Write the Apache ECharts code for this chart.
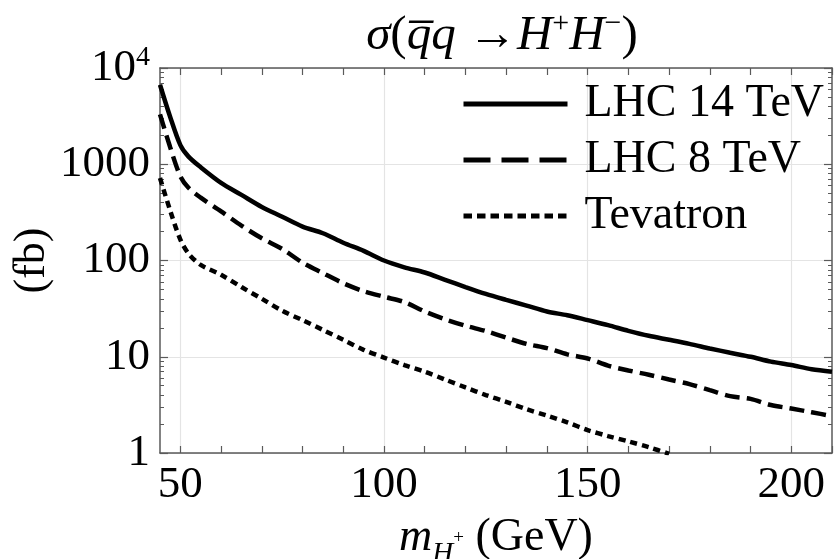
<!DOCTYPE html>
<html>
<head>
<meta charset="utf-8">
<script src="https://cdn.jsdelivr.net/npm/echarts@6/dist/echarts.min.js"></script>
<style>
  html, body { margin: 0; padding: 0; background: #ffffff; }
  #chart { width: 834px; height: 559px; }
</style>
</head>
<body>
<div id="chart"></div>
<script>
// Charged Higgs pair production cross section (fb) vs. m_H+ (GeV)
const masses = [45, 47.5, 50, 52, 55, 60, 65, 70, 75, 80, 85, 90, 95, 100, 105, 110, 115, 120,
  125, 130, 135, 140, 145, 150, 155, 160, 165, 170, 175, 180, 185, 190, 195, 200, 205, 210];

const lhc14 = [6700, 3100, 1580, 1200, 930, 640, 480, 360, 285, 225, 192, 153, 126, 100, 85, 75, 63, 53,
  45, 39, 34, 29.5, 27, 24, 21.3, 18.6, 16.5, 15, 13.6, 12.2, 11, 10, 8.9, 8.2, 7.4, 7.0];

const lhc8 = [3300, 1500, 750, 570, 450, 324, 230, 170, 132, 95, 74, 58, 48, 42, 37, 29.5, 24.5, 21,
  18.5, 15.8, 13.6, 12.3, 10.6, 9.6, 8.1, 7.2, 6.5, 5.8, 5.2, 4.5, 3.9, 3.65, 3.15, 2.9, 2.65, 2.42];

const tevatron = [720, 330, 165, 118, 90, 71, 53, 40, 30, 24, 19, 15, 11.8, 9.8, 8.2, 7.0, 5.8, 4.8,
  4.0, 3.4, 2.85, 2.45, 2.08, 1.73, 1.5, 1.32, 1.15, 0.98, null, null, null, null, null, null, null, null];

const seriesNames = ['LHC 14 TeV', 'LHC 8 TeV', 'Tevatron'];

const xLabelValues = [50, 100, 150, 200];
const xTickValues = [50, 60, 70, 80, 90, 100, 110, 120, 130, 140, 150, 160, 170, 180, 190, 200, 210];
const yMajorValues = [1, 10, 100, 1000, 10000];
const yMinorValues = [2, 3, 4, 5, 6, 7, 8, 9, 20, 30, 40, 50, 60, 70, 80, 90,
  200, 300, 400, 500, 600, 700, 800, 900, 2000, 3000, 4000, 5000, 6000, 7000, 8000, 9000];

const SERIF = '"Liberation Serif", "DejaVu Serif", serif';
const AXIS_COLOR = '#5a5a5a';
const GRID_COLOR = '#e4e4e4';

// line dash patterns: curve / legend sample
const DASH = [15, 7];
const DOT = [7, 5];
const LEGEND_DASH = [27, 11];
const LEGEND_DOT = [8.5, 5];

function pairs(ys) {
  return masses.map((m, i) => [m, ys[i]]);
}

const chart = echarts.init(document.getElementById('chart'), null, { renderer: 'canvas' });

function baseX(extra) {
  return Object.assign({
    type: 'value', min: 45, max: 210, gridIndex: 0,
    axisLine: { show: false }, axisTick: { show: false },
    axisLabel: { show: false }, splitLine: { show: false }
  }, extra);
}
function baseY(extra) {
  return Object.assign({
    type: 'log', logBase: 10, min: 1, max: 10000, gridIndex: 0,
    axisLine: { show: false }, axisTick: { show: false },
    axisLabel: { show: false }, splitLine: { show: false }
  }, extra);
}

const option = {
  animation: false,
  backgroundColor: '#ffffff',
  grid: {
    left: 160, right: 2, top: 68, bottom: 106,
    containLabel: false,
    outerBoundsMode: 'none'
  },
  graphic: [{
    type: 'text',
    x: 502, y: 36,
    style: {
      text: '{i|σ}{r|(}{i|q\u0305q }{r|→}{i|H}{sup|+}{i|H}{sup|−}{r|)}',
      align: 'center', verticalAlign: 'middle',
      rich: {
        i: { fontFamily: SERIF, fontStyle: 'italic', fontSize: 49, lineHeight: 54, fill: '#000' },
        r: { fontFamily: SERIF, fontSize: 49, lineHeight: 54, fill: '#000' },
        sup: { fontFamily: SERIF, fontSize: 30, lineHeight: 54, verticalAlign: 'top', fill: '#000' }
      }
    }
  }],
  legend: {
    orient: 'vertical',
    left: 456, top: 76,
    itemWidth: 104, itemHeight: 30,
    itemGap: 10,
    data: [
      { name: seriesNames[0], lineStyle: { width: 5, type: 'solid' } },
      { name: seriesNames[1], lineStyle: { width: 5, type: LEGEND_DASH } },
      { name: seriesNames[2], lineStyle: { width: 5, type: LEGEND_DOT } }
    ],
    itemStyle: { opacity: 0 },
    lineStyle: { width: 5 },
    textStyle: {
      fontFamily: SERIF, fontSize: 46, color: '#000', lineHeight: 36,
      padding: [0, 0, 0, 12]
    }
  },
  xAxis: [
    // bottom frame with labels and ticks
    baseX({
      position: 'bottom',
      axisLine: { show: true, onZero: false, lineStyle: { color: AXIS_COLOR, width: 1.5 } },
      axisTick: { show: true, inside: true, length: 7, customValues: xTickValues, lineStyle: { color: AXIS_COLOR, width: 1.2 } },
      axisLabel: {
        show: true, customValues: xLabelValues, margin: 10,
        fontFamily: SERIF, fontSize: 45, color: '#000'
      },
      name: '{i|m}{sub|H}{subsup|+}{r| (GeV)}',
      nameLocation: 'middle',
      nameGap: 60,
      nameTextStyle: {
        rich: {
          i: { fontFamily: SERIF, fontStyle: 'italic', fontSize: 46, lineHeight: 50, color: '#000' },
          sub: { fontFamily: SERIF, fontStyle: 'italic', fontSize: 29, lineHeight: 50, verticalAlign: 'bottom', padding: [0, 0, -6, 0], color: '#000' },
          subsup: { fontFamily: SERIF, fontSize: 19, lineHeight: 50, verticalAlign: 'middle', color: '#000' },
          r: { fontFamily: SERIF, fontSize: 46, lineHeight: 50, color: '#000' }
        }
      }
    }),
    // top frame with mirrored ticks
    baseX({
      position: 'top',
      axisLine: { show: true, onZero: false, lineStyle: { color: AXIS_COLOR, width: 1.5 } },
      axisTick: { show: true, inside: true, length: 7, customValues: xTickValues, lineStyle: { color: AXIS_COLOR, width: 1.2 } }
    }),
    // vertical grid lines at the labelled masses
    baseX({
      position: 'bottom',
      axisTick: { show: false, customValues: xLabelValues },
      splitLine: { show: true, lineStyle: { color: GRID_COLOR, width: 1.2 } }
    })
  ],
  yAxis: [
    // left frame: decades, labels, grid lines
    baseY({
      position: 'left',
      axisLine: { show: true, onZero: false, lineStyle: { color: AXIS_COLOR, width: 1.5 } },
      axisTick: { show: true, inside: true, length: 8, customValues: yMajorValues, lineStyle: { color: AXIS_COLOR, width: 1.2 } },
      axisLabel: {
        show: true, customValues: yMajorValues, margin: 10,
        formatter: function (v) {
          return v >= 10000 ? '{b|10}{sup|4}' : '{b|' + v + '}';
        },
        rich: {
          b: { fontFamily: SERIF, fontSize: 45, lineHeight: 48, color: '#000' },
          sup: { fontFamily: SERIF, fontSize: 28, lineHeight: 48, verticalAlign: 'top', color: '#000' }
        }
      },
      splitLine: { show: true, lineStyle: { color: GRID_COLOR, width: 1.2 } },
      name: '(fb)',
      nameLocation: 'middle',
      nameGap: 106,
      nameMoveOverlap: false,
      nameRotate: 90,
      nameTextStyle: { fontFamily: SERIF, fontSize: 44, color: '#000' }
    }),
    // left minor ticks
    baseY({
      position: 'left',
      axisTick: { show: true, inside: true, length: 4, customValues: yMinorValues, lineStyle: { color: AXIS_COLOR, width: 1 } }
    }),
    // right frame with decade ticks
    baseY({
      position: 'right',
      axisLine: { show: true, onZero: false, lineStyle: { color: AXIS_COLOR, width: 1.5 } },
      axisTick: { show: true, inside: true, length: 8, customValues: yMajorValues, lineStyle: { color: AXIS_COLOR, width: 1.2 } }
    }),
    // right minor ticks
    baseY({
      position: 'right',
      axisTick: { show: true, inside: true, length: 4, customValues: yMinorValues, lineStyle: { color: AXIS_COLOR, width: 1 } }
    })
  ],
  series: [
    {
      name: seriesNames[0], type: 'line', xAxisIndex: 0, yAxisIndex: 0,
      data: pairs(lhc14), showSymbol: false, symbol: 'none', smooth: 0.3, clip: true,
      lineStyle: { color: '#000', width: 4.5, type: 'solid', cap: 'butt' },
      itemStyle: { color: '#000' }
    },
    {
      name: seriesNames[1], type: 'line', xAxisIndex: 0, yAxisIndex: 0,
      data: pairs(lhc8), showSymbol: false, symbol: 'none', smooth: 0.3, clip: true,
      lineStyle: { color: '#000', width: 4.5, type: DASH, cap: 'butt' },
      itemStyle: { color: '#000' }
    },
    {
      name: seriesNames[2], type: 'line', xAxisIndex: 0, yAxisIndex: 0,
      data: pairs(tevatron), showSymbol: false, symbol: 'none', smooth: 0.3, clip: true,
      lineStyle: { color: '#000', width: 4.5, type: DOT, cap: 'butt' },
      itemStyle: { color: '#000' }
    }
  ]
};

chart.setOption(option);
</script>
</body>
</html>
